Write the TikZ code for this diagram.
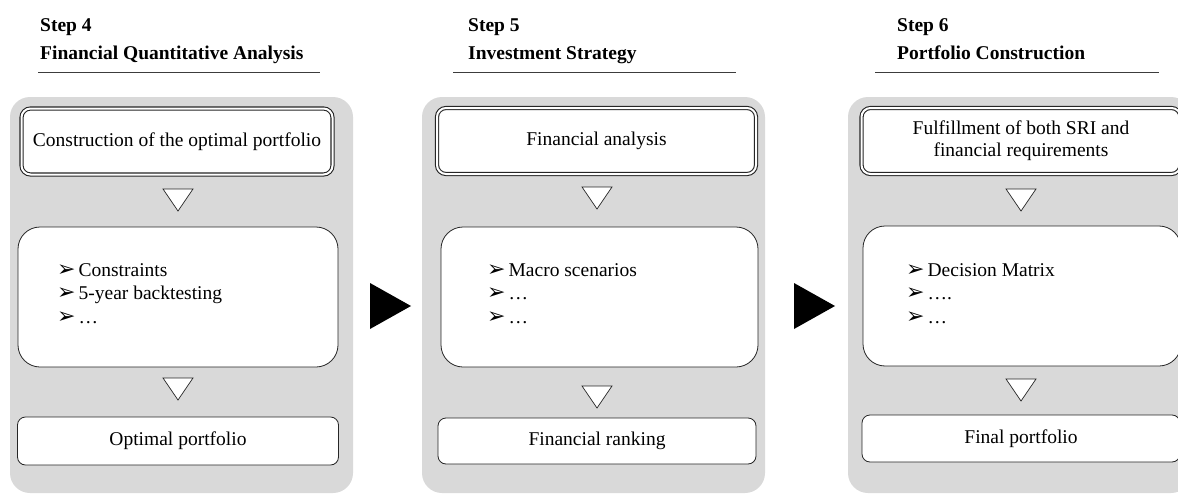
\documentclass[tikz,border=0pt]{standalone}
\usepackage{fontspec}
\setmainfont{Liberation Serif}
\newfontfamily\symfont{DejaVu Sans}
\definecolor{panelgray}{RGB}{217,217,217}
\definecolor{linegray}{RGB}{60,60,60}
\newcommand{\bul}{{\symfont\fontsize{22}{22}\selectfont ➢}\hspace{3pt}}
\begin{document}
\begin{tikzpicture}[x=1pt,y=-1pt,
  panel/.style={fill=panelgray, draw=none, rounded corners=20pt, inner sep=0pt},
  body/.style={font=\fontsize{19.5}{22}\selectfont},
  topbox/.style={body, draw=black!85, fill=white, double=white, double distance=2pt, line width=1.1pt, rounded corners=9pt, align=center, inner sep=0pt},
  midbox/.style={draw=black!85, fill=white, line width=0.8pt, rounded corners=22pt, inner sep=0pt},
  botbox/.style={body, draw=black!85, fill=white, line width=0.8pt, rounded corners=8pt, inner sep=0pt},
  bullets/.style={font=\fontsize{19.5}{23.5}\selectfont, align=left, anchor=north west, inner sep=0pt},
  steptitle/.style={font=\bfseries\fontsize{19.5}{28}\selectfont, align=left, anchor=north west, inner sep=0pt},
  underline/.style={draw=linegray, line width=1pt},
  dtri/.pic={\draw[line width=0.7pt, draw=black!85, fill=white] (-15,-11) -- (15,-11) -- (0,11) -- cycle;},
  bigarrow/.pic={\fill[black] (-20,-23) -- (-20,23) -- (21,0) -- cycle;}
]
\useasboundingbox (0,0) rectangle (1178,495);
\clip (0,0) rectangle (1178,495);

% ---------- Step 4 ----------
\node[steptitle] (t4) at (40,18) {Step 4\\Financial Quantitative Analysis};
\coordinate (u4a) at (38,73); \coordinate (u4b) at (320,73);
\draw[underline] (u4a) -- (u4b);
\node[panel, minimum width=343pt, minimum height=396pt] (p4) at (181.5,295) {};
\node[topbox, minimum width=311pt, minimum height=66pt] (a4) at (177,141.5) {Construction of the optimal portfolio};
\pic at (178,200) {dtri};
\node[midbox, minimum width=320pt, minimum height=140pt] (b4) at (178,297) {};
\node[bullets] (l4) at (57,263) {\bul Constraints\\\bul 5-year backtesting\\\bul …};
\pic at (178,389) {dtri};
\node[botbox, minimum width=321pt, minimum height=48pt] (c4) at (178,441) {Optimal portfolio};

% ---------- Step 5 ----------
\node[steptitle] (t5) at (468,18) {Step 5\\Investment Strategy};
\coordinate (u5a) at (453,73); \coordinate (u5b) at (736,73);
\draw[underline] (u5a) -- (u5b);
\node[panel, minimum width=343pt, minimum height=396pt] (p5) at (593.5,295) {};
\node[topbox, minimum width=319pt, minimum height=66pt] (a5) at (596.5,141) {Financial analysis};
\pic at (597,198) {dtri};
\node[midbox, minimum width=317pt, minimum height=140pt] (b5) at (599.5,297) {};
\node[bullets] (l5) at (487,263) {\bul Macro scenarios\\\bul …\\\bul …};
\pic at (597,397) {dtri};
\node[botbox, minimum width=318pt, minimum height=46pt] (c5) at (597,441) {Financial ranking};

% ---------- Step 6 ----------
\node[steptitle] (t6) at (897,18) {Step 6\\Portfolio Construction};
\coordinate (u6a) at (875,73); \coordinate (u6b) at (1159,73);
\draw[underline] (u6a) -- (u6b);
\node[panel, minimum width=343pt, minimum height=396pt] (p6) at (1019.5,295) {};
\node[topbox, minimum width=319pt, minimum height=66pt] (a6) at (1021,141) {Fulfillment of both SRI and\\financial requirements};
\pic at (1021,200) {dtri};
\node[midbox, minimum width=318pt, minimum height=140pt] (b6) at (1022,296) {};
\node[bullets] (l6) at (906,263) {\bul Decision Matrix\\\bul ….\\\bul …};
\pic at (1021,390) {dtri};
\node[botbox, minimum width=318pt, minimum height=47pt] (c6) at (1021,438.5) {Final portfolio};

% ---------- arrows between steps ----------
\pic at (390,306) {bigarrow};
\pic at (814,306) {bigarrow};
\end{tikzpicture}
\end{document}
